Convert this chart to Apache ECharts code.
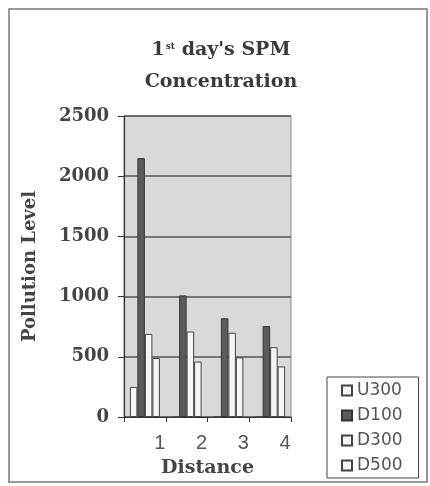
<!DOCTYPE html>
<html><head><meta charset="utf-8">
<script src="https://cdn.jsdelivr.net/npm/echarts@6/dist/echarts.min.js"></script>
<style>html,body{margin:0;padding:0;background:#fff}#c{width:430px;height:486px}</style>
</head><body><div id="c"></div>
<script>
var categories = ['1', '2', '3', '4'];
var seriesNames = ['U300', 'D100', 'D300', 'D500'];
var U300 = [250, 0, 0, 0];
var D100 = [2150, 1010, 820, 755];
var D300 = [690, 710, 700, 580];
var D500 = [490, 460, 495, 420];
var yTicks = [0, 500, 1000, 1500, 2000, 2500];

var serif = 'DejaVu Serif';
var sans = 'Liberation Sans';
var white = {color: '#f5f5f5', borderColor: '#444', borderWidth: 1};
var dark = {color: '#5b5b5b', borderColor: '#333', borderWidth: 1};
var styles = [white, dark, white, white];
var values = [U300, D100, D300, D500];

var chart = echarts.init(document.getElementById('c'), null, {renderer: 'canvas'});
chart.setOption({
  backgroundColor: '#fff',
  animation: false,
  title: {
    text: '{a|1}{s|st}{a| day\'s SPM}\n{a|Concentration}',
    left: 216, top: 29, textAlign: 'center',
    textStyle: {
      lineHeight: 32,
      rich: {
        a: {fontFamily: serif, fontWeight: 'bold', fontSize: 19, color: '#3a3a3a', lineHeight: 32},
        s: {fontFamily: serif, fontWeight: 'bold', fontSize: 9, color: '#3a3a3a', verticalAlign: 'top', lineHeight: 9, padding: [8, 0, 0, 1]}
      }
    }
  },
  legend: {
    orient: 'vertical', left: 327, top: 377,
    data: seriesNames,
    itemWidth: 10, itemHeight: 10, itemGap: 8,
    borderColor: '#444', borderWidth: 1,
    padding: [5, 16, 4, 14],
    icon: 'rect',
    textStyle: {fontFamily: 'DejaVu Sans', fontSize: 17, lineHeight: 17, color: '#555', padding: [0, 0, 0, 0]}
  },
  grid: {left: 124, right: 139, top: 116, bottom: 69, show: true, backgroundColor: '#d9d9d9', borderColor: '#8a8a8a', borderWidth: 1},
  xAxis: [{
    type: 'category', data: categories,
    axisLine: {lineStyle: {color: '#333', width: 1.2}},
    axisTick: {show: true, length: 5, lineStyle: {color: '#333'}},
    axisLabel: {show: false},
    name: 'Distance', nameLocation: 'middle', nameGap: 42,
    nameTextStyle: {fontFamily: serif, fontWeight: 'bold', fontSize: 19, color: '#444'}
  }, {
    type: 'value', position: 'bottom', min: 0, max: categories.length, interval: 1,
    axisLine: {show: false}, axisTick: {show: false}, splitLine: {show: false},
    axisLabel: {
      margin: 16, fontFamily: sans, fontSize: 20, color: '#555', padding: [0, 12, 0, 0],
      formatter: function (v) { return v >= 1 ? categories[v - 1] : ''; }
    }
  }],
  yAxis: {
    type: 'value', min: yTicks[0], max: yTicks[yTicks.length - 1], interval: 500,
    axisLine: {show: true, lineStyle: {color: '#333', width: 1.2}},
    axisTick: {show: true, length: 6, lineStyle: {color: '#333'}},
    splitLine: {show: true, lineStyle: {color: '#555', width: 1.5}},
    axisLabel: {fontFamily: serif, fontWeight: 'bold', fontSize: 18, color: '#444', margin: 15,
      formatter: function (v) { return String(v); }},
    name: 'Pollution Level', nameLocation: 'middle', nameGap: 85,
    nameTextStyle: {fontFamily: serif, fontWeight: 'bold', fontSize: 18, color: '#444'}
  },
  series: seriesNames.map(function (n, i) {
    return {
      name: n, type: 'bar', data: values[i], xAxisIndex: 0,
      barWidth: 7.5, barGap: '0%',
      itemStyle: styles[i]
    };
  }),
  graphic: [{
    type: 'rect', silent: true,
    shape: {x: 9, y: 9, width: 418, height: 473},
    style: {fill: 'none', stroke: '#777', lineWidth: 1.5}
  }]
});
</script></body></html>
